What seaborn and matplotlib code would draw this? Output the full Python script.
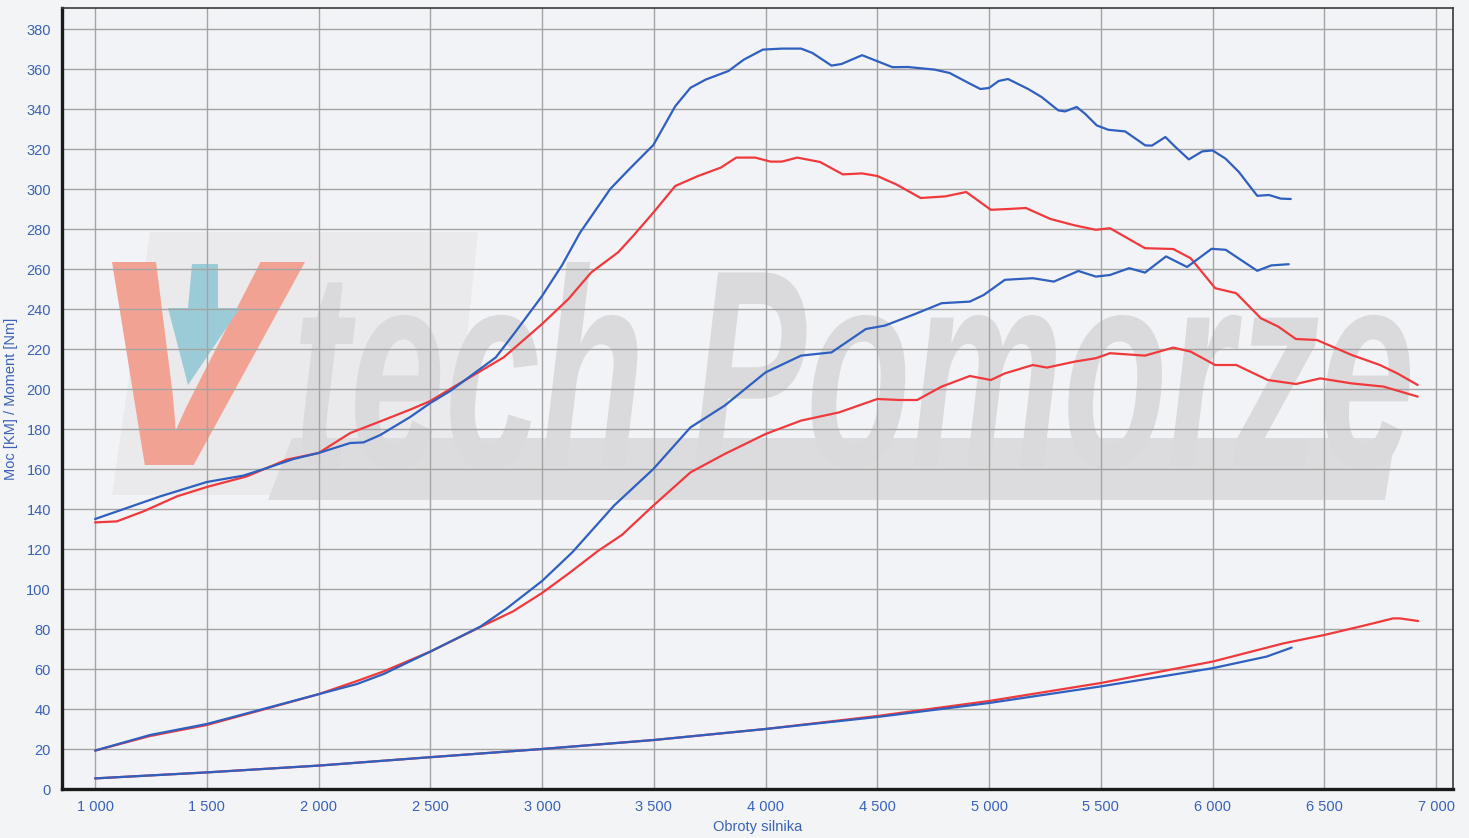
import numpy as np
import pandas as pd
import seaborn as sns
import matplotlib
matplotlib.use("Agg")
import matplotlib.pyplot as plt
from matplotlib.ticker import MultipleLocator, FuncFormatter
from matplotlib.textpath import TextPath
from matplotlib.font_manager import FontProperties
from matplotlib.patches import PathPatch, Polygon
from matplotlib.transforms import Affine2D

# --- data (rpm / value) ---
torque_blue_rpm = [1000, 1142, 1291, 1500, 1664, 1769, 1888, 2000, 2142, 2201, 2276, 2410, 2500, 2589,
                   2793, 2879, 3000, 3090, 3169, 3305, 3391, 3498, 3596, 3664, 3732, 3834, 3903, 3988,
                   4073, 4159, 4210, 4295, 4340, 4432, 4500, 4568, 4637, 4756, 4824, 4900, 4961, 5000,
                   5043, 5085, 5175, 5235, 5310, 5340, 5392, 5430, 5482, 5534, 5609, 5699, 5729, 5789,
                   5834, 5894, 5954, 6000, 6058, 6118, 6200, 6253, 6305, 6350]
torque_blue = [135, 140.5, 146.3, 153.5, 156.7, 160.5, 165, 168, 173, 173.3, 177, 186, 193, 199,
               215.8, 228.3, 246.5, 262, 278, 300, 310, 322, 341.4, 350.6, 354.7, 359, 364.7, 369.7,
               370.2, 370.2, 368, 361.7, 362.5, 366.9, 363.9, 360.9, 361, 359.7, 358, 353.5, 350, 350.5,
               354, 355, 350, 346, 339.3, 338.8, 341, 337.6, 331.8, 329.6, 328.8, 321.8, 321.7, 326,
               321, 314.8, 318.8, 319.3, 315.2, 308.5, 296.6, 297, 295.2, 295]

torque_red_rpm = [1000, 1097, 1216, 1366, 1500, 1679, 1858, 2000, 2142, 2276, 2410, 2500, 2589, 2828,
                  3000, 3118, 3220, 3340, 3408, 3498, 3596, 3698, 3800, 3869, 3954, 4022, 4073, 4142,
                  4244, 4346, 4432, 4500, 4585, 4694, 4804, 4898, 5008, 5086, 5165, 5275, 5384, 5478,
                  5541, 5698, 5824, 5902, 6012, 6106, 6216, 6294, 6373, 6467, 6623, 6749, 6827, 6918]
torque_red = [133.3, 133.8, 138.8, 146.3, 151, 156.3, 164.7, 168, 178, 183.8, 189.7, 194, 200, 215.8,
              232.5, 245, 258.3, 268.3, 276.6, 288.2, 301.5, 306.5, 310.7, 315.7, 315.7, 313.7, 313.7, 315.7,
              313.5, 307.3, 307.8, 306.5, 302.3, 295.5, 296.3, 298.5, 289.6, 290, 290.5, 285, 281.8, 279.6,
              280.4, 270.4, 270, 265.4, 250.4, 247.9, 235.4, 231.2, 225, 224.5, 217, 212, 207.8, 202]

power_blue_rpm = [1000, 1246, 1500, 1739, 2000, 2172, 2291, 2500, 2724, 2842, 3000, 3135, 3322, 3498,
                  3664, 3817, 4000, 4159, 4295, 4449, 4534, 4678, 4788, 4914, 4976, 5071, 5196, 5290,
                  5400, 5478, 5541, 5627, 5698, 5792, 5886, 5996, 6059, 6200, 6263, 6341]
power_blue = [19.2, 27, 32.5, 39.6, 47.4, 52.5, 57.5, 68.7, 81.2, 90.3, 104, 118.3, 141.7, 160,
              180.8, 191.7, 208.3, 216.7, 218.3, 230, 231.7, 237.9, 242.9, 243.7, 247, 254.6, 255.4, 253.7,
              259, 256.2, 257, 260.4, 258.2, 266.3, 261, 270.1, 269.6, 259.1, 261.8, 262.4]

power_red_rpm = [1000, 1246, 1500, 1739, 2000, 2172, 2291, 2500, 2724, 2870, 3000, 3122, 3250, 3357,
                 3498, 3664, 3817, 4000, 4159, 4329, 4500, 4600, 4678, 4788, 4914, 5008, 5071, 5196,
                 5259, 5384, 5478, 5541, 5698, 5824, 5902, 6012, 6106, 6247, 6373, 6482, 6623, 6765, 6918]
power_red = [19.2, 26.5, 32, 39.3, 47.4, 54, 58.8, 68.7, 81, 88.8, 98, 108, 119, 127,
             141.7, 158.3, 167.5, 177.5, 184.2, 188.3, 195, 194.5, 194.5, 201.2, 206.5, 204.5, 207.8, 212,
             210.7, 213.7, 215.4, 217.9, 216.7, 220.7, 218.7, 212, 212, 204.5, 202.5, 205.3, 202.8, 201.2, 196.2]

loss_blue_rpm = [1000, 1500, 2000, 2500, 3000, 3500, 4000, 4500, 5000, 5500, 6000, 6242, 6354]
loss_blue = [5.3, 8.3, 11.7, 15.9, 20, 24.5, 30, 36, 43, 51.3, 60.4, 66.2, 70.7]

loss_red_rpm = [1000, 1500, 2000, 2500, 3000, 3500, 4000, 4500, 5000, 5500, 6000, 6317, 6500, 6689, 6808, 6838, 6920]
loss_red = [5.3, 8.3, 11.7, 15.9, 20, 24.5, 30, 36.5, 44, 53, 63.7, 72.8, 77, 82, 85.3, 85.3, 84]

BLUE = "#2f5fbf"
RED = "#f0393c"
TXT = "#3b62b6"

curves = [
    ("loss", "red", loss_red_rpm, loss_red),
    ("loss", "blue", loss_blue_rpm, loss_blue),
    ("power", "red", power_red_rpm, power_red),
    ("power", "blue", power_blue_rpm, power_blue),
    ("torque", "red", torque_red_rpm, torque_red),
    ("torque", "blue", torque_blue_rpm, torque_blue),
]

sns.set_style("white")
plt.rcParams["font.family"] = ["Liberation Sans", "DejaVu Sans"]

fig = plt.figure(figsize=(14.69, 8.38), dpi=100, facecolor="#f3f4f6")
ax = fig.add_axes([62 / 1469, 49 / 838, 1391 / 1469, 781 / 838])
ax.set_facecolor("#f2f3f6")

# watermark logo (axes fraction coords)
def fx(px):
    return (px - 62) / 1391

def fy(py):
    return (789 - py) / 781

ax.add_patch(Polygon([(fx(150), fy(232)), (fx(478), fy(232)), (fx(450), fy(495)), (fx(112), fy(495))],
                     closed=True, transform=ax.transAxes, facecolor="#eaeaec", edgecolor="none", zorder=0.1))
ax.add_patch(Polygon([(fx(292), fy(438)), (fx(1395), fy(438)), (fx(1385), fy(500)), (fx(268), fy(500))],
                     closed=True, transform=ax.transAxes, facecolor="#dcdcde", edgecolor="none", zorder=0.15))


def fit_text(s, box, color, weight="bold", style="italic", z=0.2):
    fp = FontProperties(family="Liberation Sans", weight=weight, style=style)
    tp = TextPath((0, 0), s, size=100, prop=fp)
    bb = tp.get_extents()
    x0, y0, x1, y1 = box
    tr = (Affine2D().translate(-bb.x0, -bb.y0)
          .scale((x1 - x0) / bb.width, (y1 - y0) / bb.height)
          .translate(x0, y0) + ax.transAxes)
    ax.add_patch(PathPatch(tp, transform=tr, facecolor=color, edgecolor="none", zorder=z))


fit_text("tech Pomorze", (fx(300), fy(470), fx(1410), fy(262)), "#dadadc")
fit_text("V", (fx(112), fy(465), fx(305), fy(262)), "#f2a293", z=0.25)
ax.add_patch(Polygon([(fx(192), fy(264)), (fx(218), fy(264)), (fx(218), fy(308)), (fx(240), fy(308)),
                      (fx(188), fy(385)), (fx(168), fy(308)), (fx(188), fy(308))],
                     closed=True, transform=ax.transAxes, facecolor="#9ccbd8", edgecolor="none", zorder=0.3))

for kind, col, xs, ys in curves:
    df = pd.DataFrame({"rpm": xs, "val": ys})
    sns.lineplot(data=df, x="rpm", y="val", ax=ax, color=BLUE if col == "blue" else RED,
                 linewidth=1.6, sort=False, zorder=3 if col == "blue" else 2.5)

ax.set_xlim(852, 7076)
ax.set_ylim(0, 390.5)

ax.xaxis.set_major_locator(MultipleLocator(500))
ax.xaxis.set_minor_locator(MultipleLocator(100))
ax.yaxis.set_major_locator(MultipleLocator(20))
ax.yaxis.set_minor_locator(MultipleLocator(4))
ax.xaxis.set_major_formatter(FuncFormatter(lambda v, p: f"{int(v):,}".replace(",", " ")))
ax.yaxis.set_major_formatter(FuncFormatter(lambda v, p: f"{int(v)}"))

ax.grid(True, which="major", color="#a4a4a4", linewidth=1.0)
ax.set_axisbelow(True)
for gl in ax.get_xgridlines() + ax.get_ygridlines():
    gl.set_zorder(0.5)

ax.tick_params(axis="both", which="major", direction="out", length=5, width=1, color="#333333",
               labelsize=10.5, labelcolor=TXT, pad=3)
ax.tick_params(axis="both", which="minor", direction="out", length=3, width=0.8, color="#555555")

for side in ["left", "bottom"]:
    ax.spines[side].set_linewidth(2.4)
    ax.spines[side].set_color("#1a1a1a")
for side in ["top", "right"]:
    ax.spines[side].set_visible(True)
    ax.spines[side].set_linewidth(1.2)
    ax.spines[side].set_color("#3a3a3a")

ax.set_xlabel("Obroty silnika", color=TXT, fontsize=10.5, labelpad=4)
ax.set_ylabel("Moc [KM] / Moment [Nm]", color=TXT, fontsize=10.5, labelpad=6)

fig.savefig("out.png", dpi=100, facecolor=fig.get_facecolor())
